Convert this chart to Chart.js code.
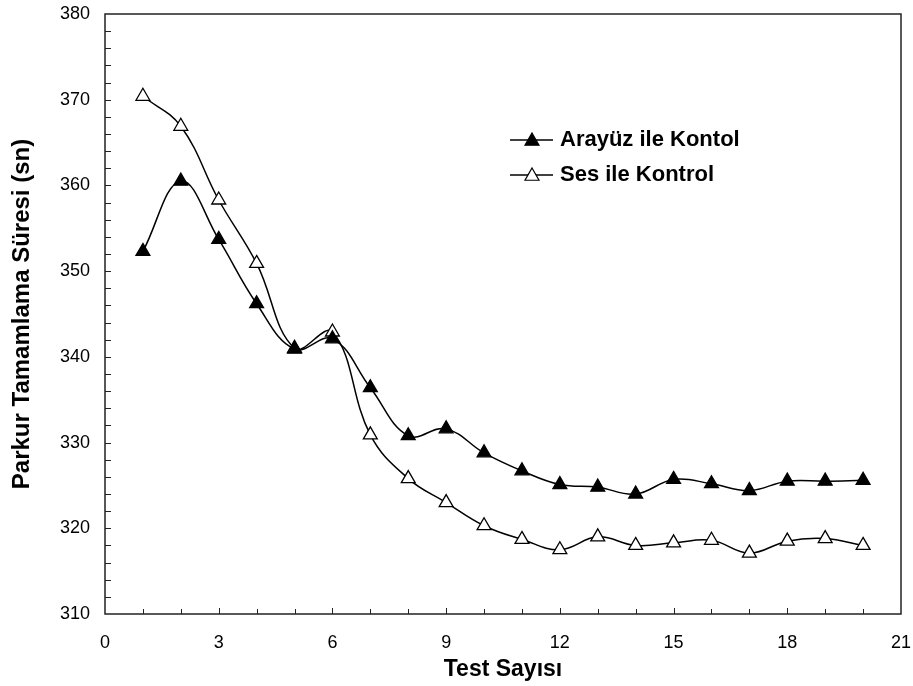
<!DOCTYPE html>
<html>
<head>
<meta charset="utf-8">
<script src="https://cdn.jsdelivr.net/npm/chart.js@4"></script>
<style>
  html, body { margin: 0; padding: 0; background: #fff; }
  #wrap { width: 913px; height: 686px; }
</style>
</head>
<body>
<div id="wrap"><canvas id="chart" width="913" height="686"></canvas></div>
<script>
/* ---------- data ---------- */
const testNo = [1, 2, 3, 4, 5, 6, 7, 8, 9, 10, 11, 12, 13, 14, 15, 16, 17, 18, 19, 20];
const arayuz = [352.3, 360.5, 353.7, 346.2, 340.9, 342.1, 336.4, 330.8, 331.6, 328.8,
                326.7, 325.1, 324.8, 324.0, 325.7, 325.2, 324.4, 325.5, 325.5, 325.6];
const ses    = [370.4, 366.9, 358.3, 350.9, 341.0, 342.9, 330.9, 325.8, 323.0, 320.3,
                318.7, 317.5, 319.0, 318.0, 318.3, 318.6, 317.1, 318.5, 318.8, 318.0];
const labelsLegend = ['Arayüz ile Kontol', 'Ses ile Kontrol'];
const xTitle = 'Test Sayısı';
const yTitle = 'Parkur Tamamlama Süresi (sn)';

const FONT = "'Liberation Sans', Arial, sans-serif";

/* ---------- box, inner ticks and legend ---------- */
const frame = {
  id: 'frame',
  afterDraw(chart) {
    const { ctx, chartArea: a, scales: { x, y } } = chart;
    ctx.save();
    ctx.strokeStyle = '#222';
    ctx.lineWidth = 1.5;
    ctx.strokeRect(a.left, a.top, a.right - a.left, a.bottom - a.top);

    // x ticks, every 1, pointing up
    ctx.lineWidth = 1;
    for (let v = 1; v < 21; v++) {
      const px = Math.round(x.getPixelForValue(v)) + 0.5;
      const len = v % 3 === 0 ? 6 : 5;
      ctx.beginPath();
      ctx.moveTo(px, a.bottom);
      ctx.lineTo(px, a.bottom - len);
      ctx.stroke();
    }
    // y ticks, every 2, pointing right
    for (let v = 312; v < 380; v += 2) {
      const py = Math.round(y.getPixelForValue(v)) + 0.5;
      ctx.beginPath();
      ctx.moveTo(a.left, py);
      ctx.lineTo(a.left + 6, py);
      ctx.stroke();
    }

    // legend inside the plot
    const lx = a.left + 405;
    const rows = [a.top + 126, a.top + 161];
    chart.data.datasets.forEach((ds, i) => {
      const ly = rows[i];
      ctx.strokeStyle = '#000';
      ctx.lineWidth = 1.5;
      ctx.beginPath();
      ctx.moveTo(lx, ly);
      ctx.lineTo(lx + 43, ly);
      ctx.stroke();
      const cx = lx + 22, r = 7;
      ctx.beginPath();
      ctx.moveTo(cx, ly - r);
      ctx.lineTo(cx + r, ly + r * 0.75);
      ctx.lineTo(cx - r, ly + r * 0.75);
      ctx.closePath();
      ctx.fillStyle = ds.pointBackgroundColor;
      ctx.fill();
      ctx.lineWidth = 1.2;
      ctx.stroke();
      ctx.fillStyle = '#000';
      ctx.font = 'bold 22px ' + FONT;
      ctx.textBaseline = 'middle';
      ctx.textAlign = 'left';
      ctx.fillText(ds.label, lx + 50, ly);
    });
    ctx.restore();
  }
};

function series(label, values, fill) {
  return {
    label,
    data: testNo.map((t, i) => ({ x: t, y: values[i] })),
    borderColor: '#000',
    borderWidth: 1.5,
    tension: 0.4,
    pointStyle: 'triangle',
    pointRadius: 8,
    pointBorderWidth: 1.3,
    pointBorderColor: '#000',
    pointBackgroundColor: fill,
    fill: false
  };
}

new Chart(document.getElementById('chart'), {
  type: 'line',
  data: {
    datasets: [
      series(labelsLegend[0], arayuz, '#000'),
      series(labelsLegend[1], ses, '#fff')
    ]
  },
  options: {
    responsive: false,
    animation: false,
    layout: { padding: { left: 0, top: 14, right: 12, bottom: 0 } },
    plugins: { legend: { display: false }, tooltip: { enabled: false } },
    scales: {
      x: {
        type: 'linear',
        min: 0, max: 21,
        grid: { display: false, drawTicks: false },
        border: { display: false },
        ticks: { stepSize: 3, color: '#000', padding: 18, maxRotation: 0,
                 font: { family: FONT, size: 18 } },
        title: { display: true, text: xTitle, color: '#000', padding: { top: 2, bottom: 3 },
                 font: { family: FONT, size: 23, weight: 'bold' } },
        afterFit(s) { s.height = 72; s.paddingLeft = 0; s.paddingRight = 0; }
      },
      y: {
        min: 310, max: 380,
        grid: { display: false, drawTicks: false },
        border: { display: false },
        ticks: { stepSize: 10, color: '#000', padding: 15,
                 font: { family: FONT, size: 18 } },
        title: { display: true, text: yTitle, color: '#000', padding: { top: 8, bottom: 4 },
                 font: { family: FONT, size: 24, weight: 'bold' } },
        afterFit(s) { s.width = 105; s.paddingTop = 0; s.paddingBottom = 0; }
      }
    }
  },
  plugins: [frame]
});
</script>
</body>
</html>
